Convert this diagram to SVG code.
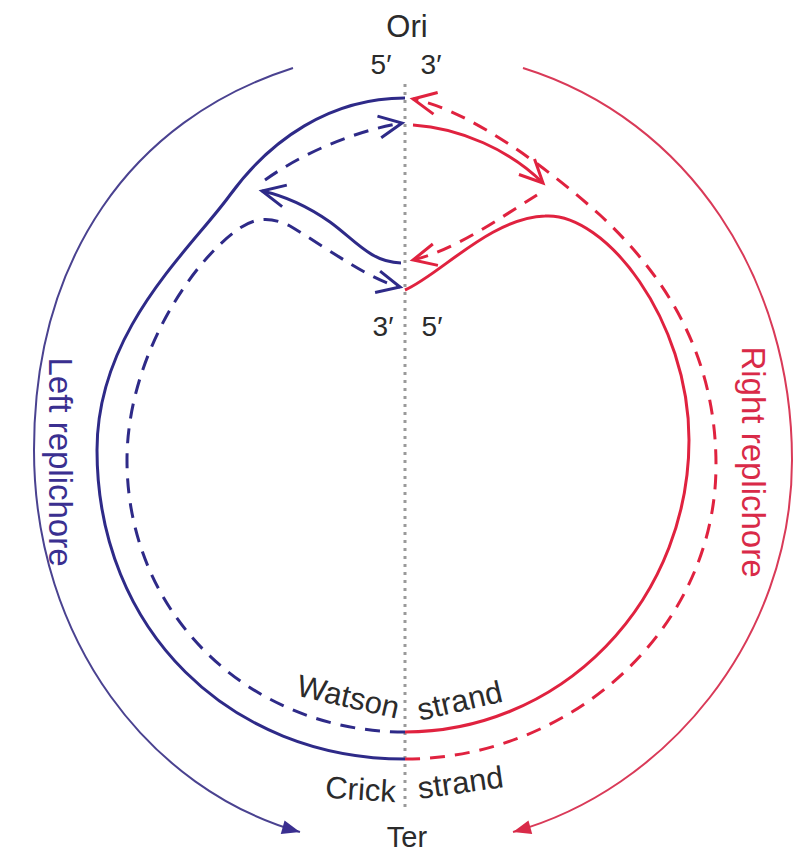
<svg xmlns="http://www.w3.org/2000/svg" width="801" height="858" viewBox="0 0 801 858">
<defs>
<style>
.txt{font-family:"Liberation Sans",Arial,Helvetica,sans-serif;fill:#2b2b2b;}
.lbl{font-size:31px;text-anchor:middle;}
.prm{font-size:28px;text-anchor:middle;}
.b{fill:none;stroke:#2e2a88;stroke-width:3;}
.r{fill:none;stroke:#e0223f;stroke-width:3;}
.d{stroke-dasharray:15 10;}
.arcb{fill:none;stroke:#4a4290;stroke-width:2;}
.arcr{fill:none;stroke:#d93a58;stroke-width:2;}
</style>
<marker id="vb" markerUnits="userSpaceOnUse" markerWidth="30" markerHeight="30" viewBox="-26 -15 30 30" refX="0" refY="0" orient="auto">
<path d="M-23,-11 L0,0 L-23,11" fill="none" stroke="#2e2a88" stroke-width="3"/>
</marker>
<marker id="vr" markerUnits="userSpaceOnUse" markerWidth="30" markerHeight="30" viewBox="-26 -15 30 30" refX="0" refY="0" orient="auto">
<path d="M-23,-11 L0,0 L-23,11" fill="none" stroke="#e0223f" stroke-width="3"/>
</marker>
<marker id="tb" markerUnits="userSpaceOnUse" markerWidth="24" markerHeight="24" viewBox="-20 -12 24 24" refX="0" refY="0" orient="auto">
<path d="M-18,-7 L0,0 L-18,7 Z" fill="#3a2f90"/>
</marker>
<marker id="tr" markerUnits="userSpaceOnUse" markerWidth="24" markerHeight="24" viewBox="-20 -12 24 24" refX="0" refY="0" orient="auto">
<path d="M-18,-7 L0,0 L-18,7 Z" fill="#d92a48"/>
</marker>
</defs>
<rect width="801" height="858" fill="#ffffff"/>

<g id="axis">
<line x1="405" y1="84" x2="405" y2="812" stroke="#9a9a9a" stroke-width="3" stroke-dasharray="3 5"/>
</g>

<g id="connectors">
<!-- replichore arcs -->
<path class="arcb" d="M293,68 C130,120 34,260 34,450 C34,640 150,790 300,832" marker-end="url(#tb)"/>
<path class="arcr" d="M523,68 C690,120 792,280 792,460 C792,640 665,790 513,832" marker-end="url(#tr)"/>
<!-- blue strands -->
<path class="b" d="M405,98 C330,98 270,140 230,195 C190,250 97,330 97,450 C97,630 230,759 405,759"/>
<path class="b d" d="M405,732 C250,732 127,615 127,460 C127,360 190,262 240,228 C255,218 270,216 290,226 C330,250 370,280 400,287" marker-end="url(#vb)"/>
<path class="b d" d="M265,180 C300,155 350,132 402,123" marker-end="url(#vb)"/>
<path class="b" d="M401,263 C370,262 355,240 330,222 C310,208 285,196 262,191" marker-end="url(#vb)"/>
<!-- red strands -->
<path class="r d" d="M405,759 C570,759 716,630 716,465 C716,360 670,280 600,215 C550,170 470,110 413,99" marker-end="url(#vr)"/>
<path class="r" d="M405,290 C440,275 490,218 545,216 C605,212 689,320 689,440 A284 292 0 0 1 405,732"/>
<path class="r" d="M413,125 C460,128 510,150 543,183" marker-end="url(#vr)"/>
<path class="r d" d="M537,195 C500,218 455,250 413,260" marker-end="url(#vr)"/>
</g>

<g id="ori">
<text class="txt lbl" x="407" y="37">Ori</text>
<text class="txt prm" x="381" y="74">5′</text>
<text class="txt prm" x="431" y="74">3′</text>
</g>
<g id="ends">
<text class="txt prm" x="383" y="336">3′</text>
<text class="txt prm" x="432" y="336">5′</text>
</g>
<g id="watson">
<text class="txt lbl" transform="translate(346,707) rotate(13)">Watson</text>
<text class="txt lbl" transform="translate(462,711) rotate(-13)">strand</text>
</g>
<g id="crick">
<text class="txt lbl" transform="translate(360,800) rotate(3.5)">Crick</text>
<text class="txt lbl" transform="translate(462,793) rotate(-8)">strand</text>
</g>
<g id="ter">
<text class="txt lbl" x="407" y="847" style="font-size:29px">Ter</text>
</g>
<g id="left-replichore">
<text class="txt lbl" transform="translate(49,462) rotate(90)" style="fill:#3a2f90;font-size:33px">Left replichore</text>
</g>
<g id="right-replichore">
<text class="txt lbl" transform="translate(742,462) rotate(90)" style="fill:#d92a48;font-size:33px">Right replichore</text>
</g>
</svg>
